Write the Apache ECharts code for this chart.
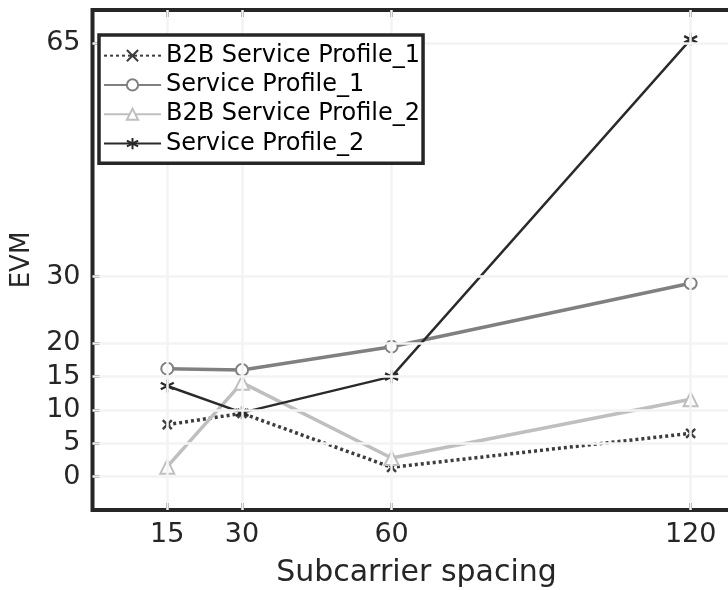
<!DOCTYPE html>
<html>
<head>
<meta charset="utf-8">
<script src="https://cdn.jsdelivr.net/npm/echarts@6/dist/echarts.min.js"></script>
<style>
  html, body { margin: 0; padding: 0; background: #fff; }
  #chart { width: 728px; height: 590px; }
</style>
</head>
<body>
<div id="chart"></div>
<script>
// Subcarrier spacing (kHz) on the x axis, EVM per service profile
const spacing = [15, 30, 60, 120];
const b2bProfile1 = [7.8, 9.5, 1.4, 6.5];
const profile1 = [16.2, 16.0, 19.5, 29.0];
const b2bProfile2 = [1.5, 14.1, 2.8, 11.6];
const profile2 = [13.6, 9.6, 15.0, 65.6];

const xTicks = [15, 30, 60, 120];
const yTicks = [0, 5, 10, 15, 20, 30, 65];

const seriesNames = ['B2B Service Profile_1', 'Service Profile_1', 'B2B Service Profile_2', 'Service Profile_2'];

const FONT = 'DejaVu Sans';
const INK = '#262626';

const pairs = (ys) => spacing.map((x, i) => [x, ys[i]]);

const xMark = 'path://M0,0L10,10M10,0L0,10';
const asterisk = 'path://M5,0L5,10M0.67,2.5L9.33,7.5M0.67,7.5L9.33,2.5';

const tickStyle = { show: true, inside: true, length: 7, lineStyle: { color: INK, width: 3 } };
const hiddenLine = { show: false, onZero: false };

const option = {
  animation: false,
  backgroundColor: '#fff',
  grid: {
    // the plot box runs a little past the right edge of the canvas
    left: 92.5, top: 10, width: 648, height: 500,
    outerBoundsMode: 'none',
    show: true, borderWidth: 4, borderColor: INK, backgroundColor: '#fff'
  },
  legend: {
    orient: 'vertical',
    left: 99, top: 35,
    data: seriesNames,
    itemWidth: 57, itemHeight: 14, itemGap: 0,
    padding: [6, 3, 5, 4],
    borderColor: INK, borderWidth: 3.5,
    backgroundColor: '#fff',
    textStyle: { fontFamily: FONT, fontSize: 24, color: '#000', lineHeight: 29.3 },
    z: 10
  },
  xAxis: [{
    type: 'value', min: 0, max: 130,
    name: 'Subcarrier spacing', nameLocation: 'middle', nameGap: 48,
    nameTextStyle: { fontFamily: FONT, fontSize: 30, color: INK },
    axisLine: hiddenLine,
    axisTick: Object.assign({ customValues: xTicks }, tickStyle),
    axisLabel: { customValues: xTicks, fontFamily: FONT, fontSize: 27, color: INK, margin: 11 },
    splitLine: { show: false }
  }, {
    type: 'value', min: 0, max: 130, position: 'top',
    axisLine: hiddenLine,
    axisTick: Object.assign({ customValues: xTicks }, tickStyle),
    axisLabel: { show: false },
    splitLine: { show: false }
  }],
  yAxis: [{
    type: 'value', min: -5, max: 70,
    name: 'EVM', nameLocation: 'middle', nameGap: 45,
    nameTextStyle: { fontFamily: FONT, fontSize: 26, color: INK },
    axisLine: hiddenLine,
    axisTick: Object.assign({ customValues: yTicks }, tickStyle),
    axisLabel: { customValues: yTicks, fontFamily: FONT, fontSize: 27, color: INK, margin: 12 },
    splitLine: { show: false }
  }, {
    type: 'value', min: -5, max: 70, position: 'right',
    axisLine: hiddenLine,
    axisTick: Object.assign({ customValues: yTicks }, tickStyle),
    axisLabel: { show: false },
    splitLine: { show: false }
  }],
  series: [
    {
      // light grid lines at the labelled tick positions
      type: 'line', data: [], silent: true, z: 1,
      markLine: {
        silent: true, symbol: 'none', animation: false,
        label: { show: false },
        lineStyle: { color: '#f3f3f3', width: 2.5, type: 'solid' },
        data: yTicks.map(v => ({ yAxis: v })).concat(xTicks.map(v => ({ xAxis: v })))
      }
    },
    {
      name: seriesNames[0], type: 'line', data: pairs(b2bProfile1), z: 3,
      symbol: xMark, symbolSize: 9,
      lineStyle: { color: '#3d3d3d', width: 3.5, type: [3, 3] },
      itemStyle: { color: '#3d3d3d', borderColor: '#3d3d3d', borderWidth: 2.4 }
    },
    {
      name: seriesNames[1], type: 'line', data: pairs(profile1), z: 3,
      symbol: 'emptyCircle', symbolSize: 12,
      lineStyle: { color: '#808080', width: 3.5 },
      itemStyle: { color: '#808080', borderColor: '#808080', borderWidth: 2.4 }
    },
    {
      name: seriesNames[2], type: 'line', data: pairs(b2bProfile2), z: 3,
      symbol: 'emptyTriangle', symbolSize: 14,
      lineStyle: { color: '#bfbfbf', width: 3.5 },
      itemStyle: { color: '#bfbfbf', borderColor: '#bfbfbf', borderWidth: 2.6 }
    },
    {
      name: seriesNames[3], type: 'line', data: pairs(profile2), z: 4,
      symbol: asterisk, symbolSize: 13,
      lineStyle: { color: '#2a2a2a', width: 2.4 },
      itemStyle: { color: '#2a2a2a', borderColor: '#2a2a2a', borderWidth: 2.4 }
    }
  ]
};

const chart = echarts.init(document.getElementById('chart'), null, { renderer: 'canvas' });
chart.setOption(option);
</script>
</body>
</html>
